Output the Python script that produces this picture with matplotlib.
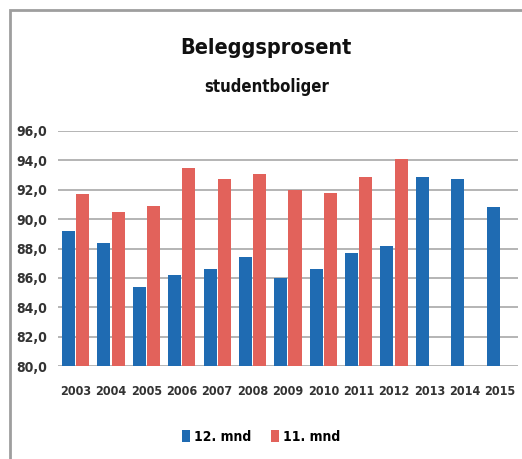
import matplotlib
matplotlib.use("Agg")
import matplotlib.pyplot as plt
import numpy as np
from matplotlib.patches import Rectangle

years = ["2003", "2004", "2005", "2006", "2007", "2008", "2009",
         "2010", "2011", "2012", "2013", "2014", "2015"]
mnd12 = [89.2, 88.4, 85.4, 86.2, 86.6, 87.4, 86.0, 86.6, 87.7, 88.2, 92.9, 92.7, 90.8]
mnd11 = [91.7, 90.5, 90.9, 93.5, 92.7, 93.1, 92.0, 91.8, 92.9, 94.1, np.nan, np.nan, np.nan]
yticks = [80, 82, 84, 86, 88, 90, 92, 94, 96]

plt.rcParams['font.family'] = ['DejaVu Sans']
plt.rcParams['font.stretch'] = 'condensed'

blue = "#1f6bb2"
red = "#e2625b"

fig = plt.figure(figsize=(5.22, 4.59), dpi=100)
fig.patches.append(Rectangle((10 / 522, -0.01), 1.1, 1 - 10 / 459 + 0.01,
                             transform=fig.transFigure, fill=False,
                             edgecolor="#9e9e9e", linewidth=2))

ax = fig.add_axes([0.111, 0.2026, 0.881, 0.512])
x = np.arange(len(years))
w = 0.37
ax.bar(x - 0.2, mnd12, w, color=blue, label="12. mnd", zorder=3)
ax.bar(x + 0.2, mnd11, w, color=red, label="11. mnd", zorder=3)

ax.set_xlim(-0.5, len(years) - 0.5)
ax.set_ylim(80, 96)
ax.set_yticks(yticks)
ax.set_yticklabels([f"{v:.1f}".replace(".", ",") for v in yticks],
                   fontsize=10, fontweight="bold", color="#333333")
ax.set_xticks(x)
ax.set_xticklabels(years, fontsize=9, fontweight="bold", color="#333333")
ax.tick_params(axis="x", length=0, pad=14)
ax.tick_params(axis="y", length=0, pad=8)
ax.grid(axis="y", color="#a0a0a0", linewidth=1.1, zorder=0)
for s in ax.spines.values():
    s.set_visible(False)

fig.text(0.51, 0.895, "Beleggsprosent", ha="center", va="center",
         fontsize=15.5, fontweight="bold", color="#111111")
fig.text(0.51, 0.81, "studentboliger", ha="center", va="center",
         fontsize=12, fontweight="bold", color="#111111")

fig.legend(loc="center", bbox_to_anchor=(0.5, 0.048), ncol=2, frameon=False,
           handlelength=0.6, handleheight=0.9, handletextpad=0.3,
           columnspacing=1.4, prop={"weight": "bold", "size": 10, "stretch": "condensed"})

fig.savefig("out.png", dpi=100)
